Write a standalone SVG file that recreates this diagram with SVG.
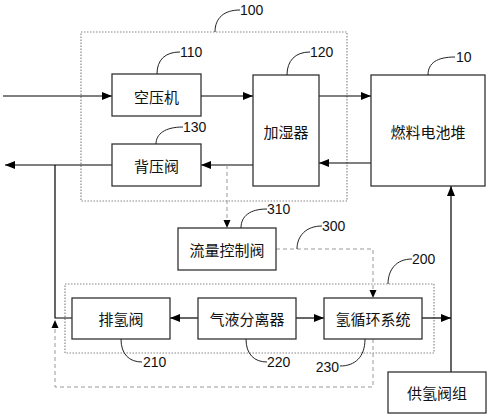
<svg xmlns="http://www.w3.org/2000/svg" width="490" height="417" viewBox="0 0 490 417">
<defs>
<marker id="ah" markerWidth="10" markerHeight="8" refX="10" refY="4" orient="auto" markerUnits="userSpaceOnUse">
<path d="M0,0 L10,4 L0,8 Z" fill="#000"/>
</marker>
<marker id="ahg" markerWidth="8" markerHeight="8" refX="8" refY="4" orient="auto" markerUnits="userSpaceOnUse">
<path d="M0,0.5 L8,4 L0,7.5 Z" fill="#000"/>
</marker>
<style>
.box{fill:#fff;stroke:#333;stroke-width:1.3}
.grp{fill:none;stroke:#888;stroke-width:1.2;stroke-dasharray:1.5,1.5}
.line{fill:none;stroke:#000;stroke-width:1.2}
.dash{fill:none;stroke:#999;stroke-width:1;stroke-dasharray:4,3}
.lead{fill:none;stroke:#222;stroke-width:1}
.t{font-family:"Noto Sans CJK SC","Noto Sans CJK JP",sans-serif;font-size:15px;fill:#111;text-anchor:middle;dominant-baseline:central}
.n{font-family:"Liberation Sans",Arial,sans-serif;font-size:14px;fill:#111}
</style>
</defs>
<rect width="490" height="417" fill="#fff"/>

<g id="group100">
<rect class="grp" x="81" y="32" width="266" height="169"/>
<path class="lead" d="M215,32 C215,18 224,10 240,10"/>
<text class="n" x="240" y="15">100</text>
</g>
<g id="group200">
<rect class="grp" x="65" y="284" width="369" height="69"/>
<path class="lead" d="M388,284 C388,270 396,259 412,259"/>
<text class="n" x="412" y="264">200</text>
</g>

<g id="connectors">
<line class="line" x1="3" y1="96" x2="112" y2="96" marker-end="url(#ah)"/>
<line class="line" x1="201" y1="96" x2="253" y2="96" marker-end="url(#ah)"/>
<line class="line" x1="319" y1="96" x2="371" y2="96" marker-end="url(#ah)"/>
<line class="line" x1="371" y1="163" x2="319" y2="163" marker-end="url(#ah)"/>
<line class="line" x1="253" y1="165" x2="201" y2="165" marker-end="url(#ah)"/>
<line class="line" x1="112" y1="165" x2="5" y2="165" marker-end="url(#ah)"/>
<polyline class="line" points="72,318 55,318 55,165"/>
<line class="line" x1="451" y1="372" x2="451" y2="186" marker-end="url(#ah)"/>
<line class="line" x1="198" y1="318" x2="170" y2="318" marker-end="url(#ah)"/>
<line class="line" x1="296" y1="318" x2="324" y2="318" marker-end="url(#ah)"/>
<line class="line" x1="422" y1="318" x2="451" y2="318" marker-end="url(#ah)"/>
<line class="dash" x1="227" y1="165" x2="227" y2="228" marker-end="url(#ahg)"/>
<polyline class="dash" points="276,249 373,249 373,298" marker-end="url(#ahg)"/>
<polyline class="dash" points="373,339 373,387 55,387 55,320" marker-end="url(#ahg)"/>
</g>

<g id="node110">
<rect class="box" x="112" y="74" width="89" height="42"/>
<text class="t" x="156.5" y="96">空压机</text>
<path class="lead" d="M157,74 C157,60 165,52 180,52"/>
<text class="n" x="180" y="57">110</text>
</g>
<g id="node130">
<rect class="box" x="112" y="144" width="89" height="42"/>
<text class="t" x="156.5" y="165">背压阀</text>
<path class="lead" d="M156,144 C156,134 165,127 183,127"/>
<text class="n" x="183" y="132">130</text>
</g>
<g id="node120">
<rect class="box" x="253" y="75" width="66" height="111"/>
<text class="t" x="286" y="131">加湿器</text>
<path class="lead" d="M287,75 C287,61 295,52 310,52"/>
<text class="n" x="310" y="57">120</text>
</g>
<g id="node10">
<rect class="box" x="371" y="75" width="114" height="111"/>
<text class="t" x="428" y="131">燃料电池堆</text>
<path class="lead" d="M428,75 C428,63 437,57 455,57"/>
<text class="n" x="456" y="62">10</text>
</g>
<g id="node310">
<rect class="box" x="178" y="228" width="98" height="42"/>
<text class="t" x="227" y="249">流量控制阀</text>
<path class="lead" d="M241,228 C241,216 250,209 267,209"/>
<text class="n" x="267" y="214">310</text>
</g>
<g id="label300">
<path class="lead" d="M297,249 C297,236 306,226 322,226"/>
<text class="n" x="322" y="231">300</text>
</g>
<g id="node210">
<rect class="box" x="72" y="298" width="98" height="41"/>
<text class="t" x="121" y="318.5">排氢阀</text>
<path class="lead" d="M121,339 C121,354 129,362 142,362"/>
<text class="n" x="143" y="367">210</text>
</g>
<g id="node220">
<rect class="box" x="198" y="298" width="98" height="41"/>
<text class="t" x="247" y="318.5">气液分离器</text>
<path class="lead" d="M246,339 C246,354 254,362 267,362"/>
<text class="n" x="267" y="367">220</text>
</g>
<g id="node230">
<rect class="box" x="324" y="298" width="98" height="41"/>
<text class="t" x="373" y="318.5">氢循环系统</text>
<path class="lead" d="M365,339 C365,357 355,366 340,366"/>
<text class="n" x="339" y="372" text-anchor="end">230</text>
</g>
<g id="nodeH2">
<rect class="box" x="388" y="372" width="98" height="41"/>
<text class="t" x="437" y="392.5">供氢阀组</text>
</g>
</svg>
